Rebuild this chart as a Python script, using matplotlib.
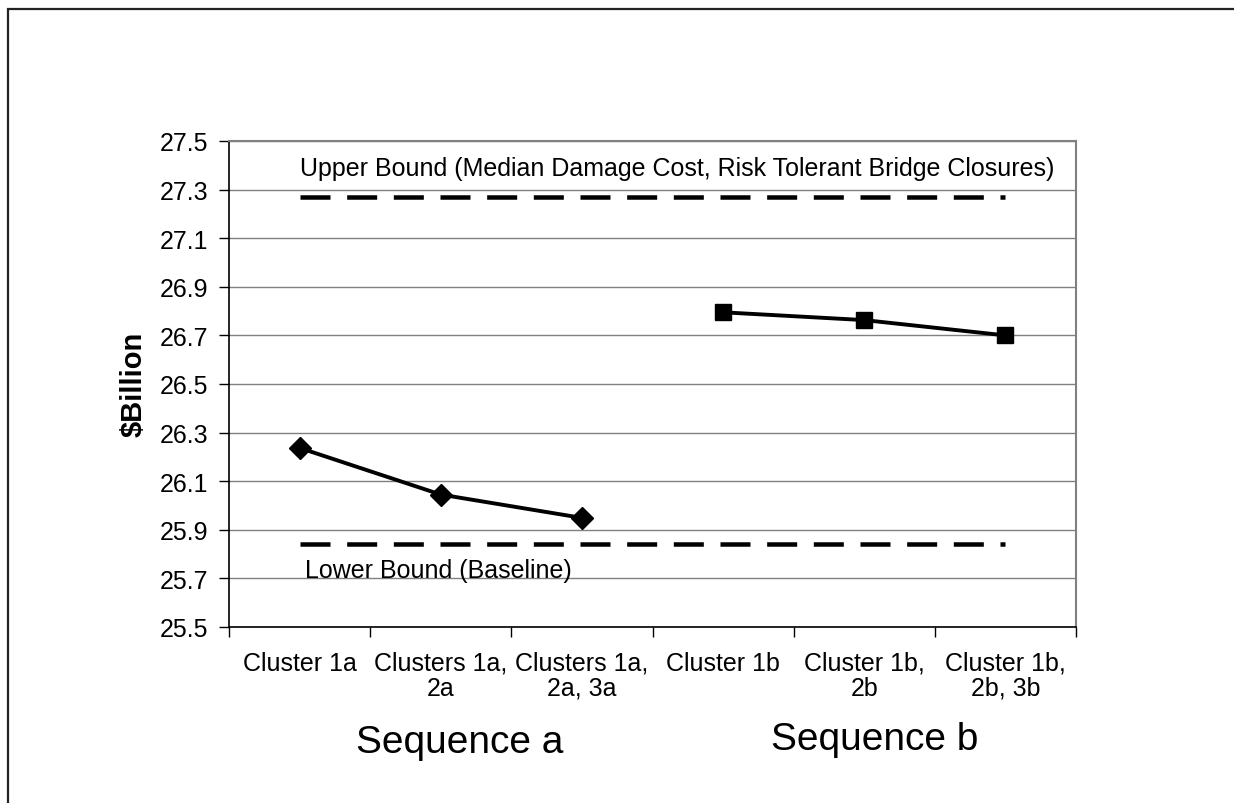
import matplotlib
matplotlib.use("Agg")
import matplotlib.pyplot as plt
from matplotlib.patches import Rectangle
import numpy as np

plt.rcParams['font.family'] = ['Liberation Sans', 'DejaVu Sans']

categories = ["Cluster 1a", "Clusters 1a,\n2a", "Clusters 1a,\n2a, 3a",
              "Cluster 1b", "Cluster 1b,\n2b", "Cluster 1b,\n2b, 3b"]
seq_a_x = [0, 1, 2]
seq_a_values = [26.237, 26.045, 25.949]
seq_b_x = [3, 4, 5]
seq_b_values = [26.795, 26.763, 26.700]
upper_bound = 27.27
lower_bound = 25.841
y_ticks = [25.5, 25.7, 25.9, 26.1, 26.3, 26.5, 26.7, 26.9, 27.1, 27.3, 27.5]
upper_label = "Upper Bound (Median Damage Cost, Risk Tolerant Bridge Closures)"
lower_label = "Lower Bound (Baseline)"
group_labels = ["Sequence a", "Sequence b"]

W, H = 1234, 804
fig = plt.figure(figsize=(W / 100, H / 100), dpi=100)
fig.patch.set_facecolor('white')

# outer frame
fig.patches.append(Rectangle((8 / W, -0.2), 2.0, 1.2 - 10 / H,
                             transform=fig.transFigure, fill=False,
                             edgecolor='#222222', linewidth=1.6, clip_on=False))

left, right, top, bottom = 229, 1076, 142, 628
ax = fig.add_axes([left / W, 1 - bottom / H, (right - left) / W, (bottom - top) / H])

ax.set_xlim(-0.5, 5.5)
ax.set_ylim(25.5, 27.5)

# grid
ax.set_yticks(y_ticks)
ax.set_yticklabels([f"{v:.1f}" for v in y_ticks], fontsize=18)
ax.yaxis.grid(True, color='#808080', linewidth=1.0)
ax.set_axisbelow(True)

# x ticks at boundaries, labels at centers
ax.set_xticks(np.arange(-0.5, 6.0, 1.0))
ax.set_xticklabels([])
ax.set_xticks(np.arange(len(categories)), minor=True)
ax.set_xticklabels(categories, minor=True, fontsize=18, linespacing=1.05)
ax.tick_params(axis='x', which='major', direction='out', length=7, width=1, color='black')
ax.tick_params(axis='x', which='minor', length=0, pad=17)
ax.tick_params(axis='y', direction='out', length=7, width=1, color='black', pad=8)

for s in ['top', 'right']:
    ax.spines[s].set_color('#808080')
    ax.spines[s].set_linewidth(1.5)
for s in ['left', 'bottom']:
    ax.spines[s].set_color('black')
    ax.spines[s].set_linewidth(1.2)

# bounds
ax.plot([0, 5], [upper_bound, upper_bound], color='black', linewidth=3.24,
        linestyle=(0, (6.67, 3.7)), dash_capstyle='butt')
ax.plot([0, 5], [lower_bound, lower_bound], color='black', linewidth=3.24,
        linestyle=(0, (6.67, 3.7)), dash_capstyle='butt')

# series
ax.plot(seq_a_x, seq_a_values, color='black', linewidth=2.8, marker='D', markersize=11.5)
ax.plot(seq_b_x, seq_b_values, color='black', linewidth=2.8, marker='s', markersize=11.5)

ax.text(0.0, 27.39, upper_label, ha='left', va='center', fontsize=18)
ax.text(0.04, 25.735, lower_label, ha='left', va='center', fontsize=18)

fig.text(134 / W, 1 - 384 / H, "$Billion", rotation=90, ha='center', va='center',
         fontsize=21, fontweight='bold')

fig.text(460 / W, 1 - 743 / H, group_labels[0], ha='center', va='center', fontsize=28)
fig.text(875 / W, 1 - 740 / H, group_labels[1], ha='center', va='center', fontsize=28)

fig.savefig("out.png", dpi=100, facecolor='white')
